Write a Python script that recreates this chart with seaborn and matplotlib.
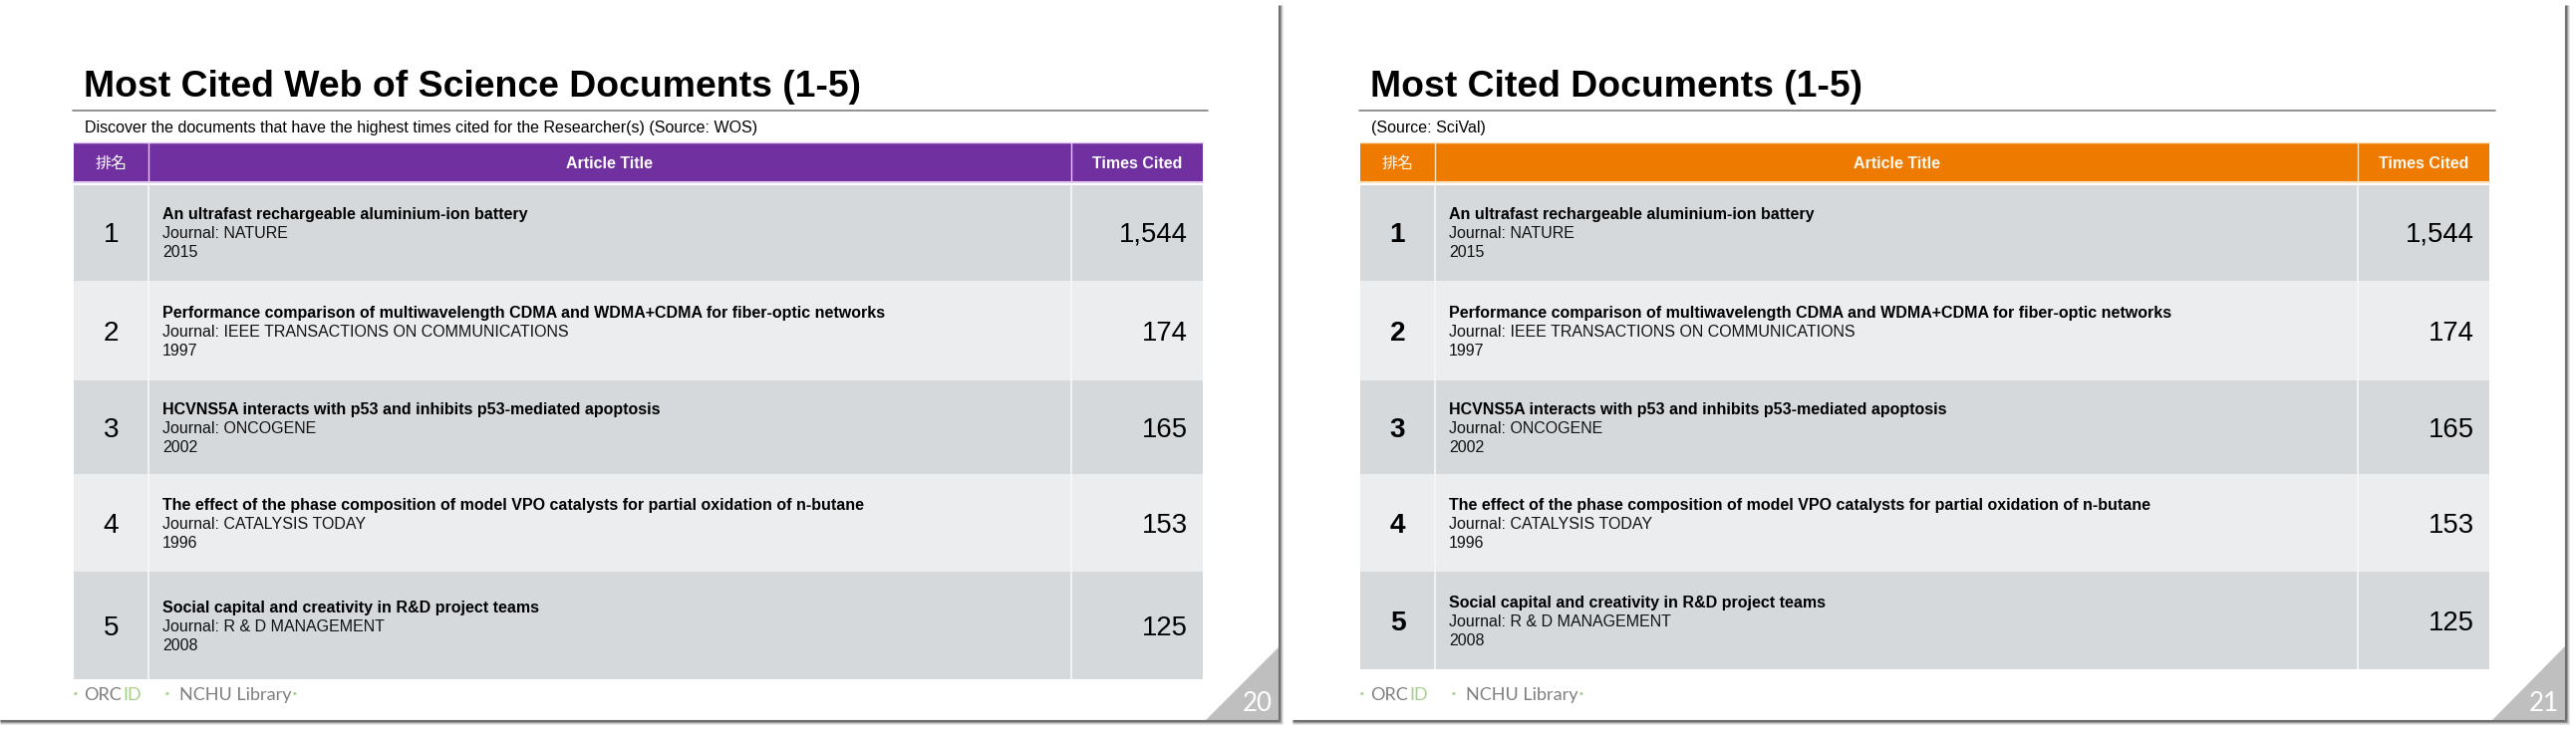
import matplotlib
matplotlib.use('Agg')
import matplotlib.pyplot as plt
from matplotlib.colors import ListedColormap
from matplotlib.patches import Polygon
import seaborn as sns

# table content, same five documents on both slides
ranks = ['1', '2', '3', '4', '5']
article_titles = ['An ultrafast rechargeable aluminium-ion battery',
                  'Performance comparison of multiwavelength CDMA and WDMA+CDMA for fiber-optic networks',
                  'HCVNS5A interacts with p53 and inhibits p53-mediated apoptosis',
                  'The effect of the phase composition of model VPO catalysts for partial oxidation of n-butane',
                  'Social capital and creativity in R&D project teams']
journals = ['NATURE', 'IEEE TRANSACTIONS ON COMMUNICATIONS', 'ONCOGENE', 'CATALYSIS TODAY', 'R & D MANAGEMENT']
years = ['2015', '1997', '2002', '1996', '2008']
times_cited = ['1,544', '174', '165', '153', '125']
column_names = ['排名', 'Article Title', 'Times Cited']

# slide texts
slide_titles = ['Most Cited Web of Science Documents (1-5)', 'Most Cited Documents (1-5)']
slide_notes = ['Discover the documents that have the highest times cited for the Researcher(s) (Source: WOS)',
               '(Source: SciVal)']
page_numbers = ['20', '21']

W, H = 2585, 734
sns.set_theme(style='white')
plt.rcParams['font.family'] = ['Liberation Sans', 'Noto Sans CJK TC', 'DejaVu Sans']


def px(size):
    # font size given in image pixels
    return size * 0.72


fig = plt.figure(figsize=(W / 100, H / 100), dpi=100, facecolor='white')


def band(x0, x1, y0, y1, color):
    ax = fig.add_axes([x0 / W, 1 - y1 / H, (x1 - x0) / W, (y1 - y0) / H])
    sns.heatmap([[0]], cmap=ListedColormap([color]), cbar=False,
                xticklabels=False, yticklabels=False, ax=ax)


# row edges differ a little between slides, last row is shorter on the second one
slides = [
    dict(dx=0, left=74, right=1207, col1=149, col2=1075, rule=(73, 1212), head='#7030A0', head_edge='#E2CDF0',
         edges=[186, 282, 382, 476, 574, 682], base=[220, 319, 416, 512, 615],
         bold_rank=False, edge_x=1283, slide_x=0, tri_x=1210, tri_y=650),
    dict(dx=1291, left=1365, right=2498, col1=1440, col2=2366, rule=(1364, 2504), head='#EE7B00', head_edge='#FBE3BE',
         edges=[186, 282, 382, 476, 574, 672], base=[220, 319, 416, 512, 610],
         bold_rank=True, edge_x=2574, slide_x=1297, tri_x=2501, tri_y=649),
]

row_colors = ['#D5D9DC', '#EBEDEF', '#D5D9DC', '#EBEDEF', '#D5D9DC']

for s in slides:
    band(s['left'], s['right'], 143, 182, s['head'])
    for i in range(5):
        band(s['left'], s['right'], s['edges'][i], s['edges'][i + 1], row_colors[i])

# everything else goes on a transparent overlay in pixel coordinates
top = fig.add_axes([0, 0, 1, 1], zorder=10)
top.set_xlim(0, W)
top.set_ylim(H, 0)
top.axis('off')
top.patch.set_alpha(0)

for n, s in enumerate(slides):
    dx = s['dx']

    # slide shadow
    for off, col in [(0, '#6E6E6E'), (1, '#6E6E6E'), (2, '#9A9A9A'), (3, '#C8C8C8'), (4, '#E8E8E8')]:
        top.plot([s['slide_x'], s['edge_x'] + off], [723 + off, 723 + off], color=col, lw=0.8, solid_capstyle='butt')
        top.plot([s['edge_x'] + off, s['edge_x'] + off], [5, 723 + off], color=col, lw=0.8, solid_capstyle='butt')

    top.add_patch(Polygon([(s['tri_x'], 723), (s['edge_x'], s['tri_y']), (s['edge_x'], 723)], closed=True,
                          facecolor='#BFBFBF', edgecolor='none'))
    top.text(s['edge_x'] - 21, 714, page_numbers[n], color='white', fontsize=px(26), ha='center', va='baseline',
             family='Lato')

    # title and note
    top.text(84 + dx, 97, slide_titles[n], fontsize=px(37.4), fontweight='bold', color='black', va='baseline')
    top.plot(s['rule'], [111, 111], color='#7F7F7F', lw=1.2)
    top.text(85 + dx, 133, slide_notes[n], fontsize=px(16), color='black', va='baseline')

    # header
    top.plot([s['left'], s['right']], [143, 143], color=s['head_edge'], lw=1)
    top.plot([s['left'], s['right']], [182.5, 182.5], color=s['head_edge'], lw=1.5)
    head_x = [(s['left'] + s['col1']) / 2, (s['col1'] + s['col2']) / 2, (s['col2'] + s['right']) / 2]
    for j, (x, name) in enumerate(zip(head_x, column_names)):
        top.text(x, 169, name, color='#FFF8EE' if n else 'white', fontsize=px(16),
                 fontweight='normal' if j == 0 else 'bold', ha='center', va='baseline')

    # column dividers
    for col in [s['col1'], s['col2']]:
        top.plot([col, col], [143, 182], color=s['head_edge'], lw=1)
        top.plot([col, col], [186, s['edges'][-1]], color='#F6F7F8', lw=1.2)

    # rows
    for i in range(5):
        b = s['base'][i]
        top.text((s['left'] + s['col1']) / 2, b + 23, ranks[i], fontsize=px(28), color='black', ha='center',
                 va='baseline', fontweight='bold' if s['bold_rank'] else 'normal')
        top.text(163 + dx, b, article_titles[i], fontsize=px(16), fontweight='bold', color='black', va='baseline')
        top.text(163 + dx, b + 19, 'Journal: ' + journals[i], fontsize=px(16), color='#111111', va='baseline')
        top.text(163 + dx, b + 38, years[i], fontsize=px(16), color='#111111', va='baseline')
        top.text(s['right'] - 15, b + 23, times_cited[i], fontsize=px(27.5), color='black', ha='right', va='baseline')

    # footer
    top.text(76 + dx, 703, '·', fontsize=px(22), color='#A6D08A', ha='center', va='baseline', family='Lato')
    top.text(84 + dx, 703, 'ORC', fontsize=px(18), color='#7F7F7F', va='baseline', family='Lato')
    top.text(123 + dx, 703, 'ID', fontsize=px(18), color='#A6D08A', va='baseline', family='Lato')
    top.text(168 + dx, 703, '·', fontsize=px(22), color='#A6D08A', ha='center', va='baseline', family='Lato')
    top.text(180 + dx, 703, 'NCHU Library', fontsize=px(18), color='#7F7F7F', va='baseline', family='Lato')
    top.text(296 + dx, 703, '·', fontsize=px(22), color='#A6D08A', ha='center', va='baseline', family='Lato')

fig.savefig('out.png', dpi=100)
